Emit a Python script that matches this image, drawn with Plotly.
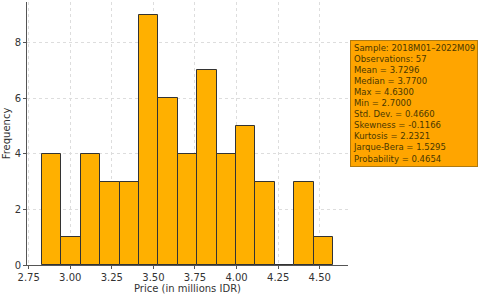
import plotly.graph_objects as go

counts = [4, 1, 4, 3, 3, 9, 6, 4, 7, 4, 5, 3, 0, 3, 1]
bin_start = 2.83
bin_end = 4.58
x_ticks = [2.75, 3.00, 3.25, 3.50, 3.75, 4.00, 4.25, 4.50]
y_ticks = [0, 2, 4, 6, 8]
stats_lines = [
    "Sample: 2018M01–2022M09",
    "Observations: 57",
    "Mean = 3.7296",
    "Median = 3.7700",
    "Max = 4.6300",
    "Min = 2.7000",
    "Std. Dev. = 0.4660",
    "Skewness = -0.1166",
    "Kurtosis = 2.2321",
    "Jarque-Bera = 1.5295",
    "Probability = 0.4654",
]

n = len(counts)
w = (bin_end - bin_start) / n
centers = [bin_start + w * (i + 0.5) for i in range(n)]

fig = go.Figure()
fig.add_trace(go.Bar(
    x=centers, y=counts, width=[w] * n,
    marker=dict(color="#FFB000", line=dict(color="#333333", width=1)),
    hoverinfo="skip",
))

font = "DejaVu Sans, Arial, sans-serif"
fig.update_layout(
    width=480, height=295,
    margin=dict(l=27, r=132, t=2, b=30),
    paper_bgcolor="white", plot_bgcolor="white",
    showlegend=False,
    bargap=0,
    font=dict(family=font, size=10, color="#333333"),
    xaxis=dict(
        range=[2.74, 4.67],
        tickvals=x_ticks,
        ticktext=[f"{v:.2f}" for v in x_ticks],
        showgrid=True, gridcolor="#dddddd", griddash="dot", gridwidth=1,
        showline=True, linecolor="#555555", linewidth=1,
        ticks="outside", ticklen=3, tickcolor="#555555",
        zeroline=False, automargin=False,
        title=dict(text="Price (in millions IDR)", font=dict(size=10), standoff=2),
        tickfont=dict(size=10),
    ),
    yaxis=dict(
        range=[0, 9.45],
        tickvals=y_ticks,
        showgrid=True, gridcolor="#dddddd", griddash="dot", gridwidth=1,
        showline=True, linecolor="#555555", linewidth=1,
        ticks="outside", ticklen=3, tickcolor="#555555",
        zeroline=False, automargin=False,
        title=dict(text="Frequency", font=dict(size=10), standoff=2),
        tickfont=dict(size=10),
    ),
)

fig.add_annotation(
    xref="paper", yref="paper",
    x=1.006, y=0.855, xanchor="left", yanchor="top",
    text="<br>".join(stats_lines),
    showarrow=False, align="left",
    font=dict(family=font, size=8.5, color="#4a3800"),
    bgcolor="#FFA500", bordercolor="#b07a10", borderwidth=1, borderpad=2,
)

fig.write_html("out.html", post_script="document.body.style.margin='0';",
               config={"displayModeBar": False})
